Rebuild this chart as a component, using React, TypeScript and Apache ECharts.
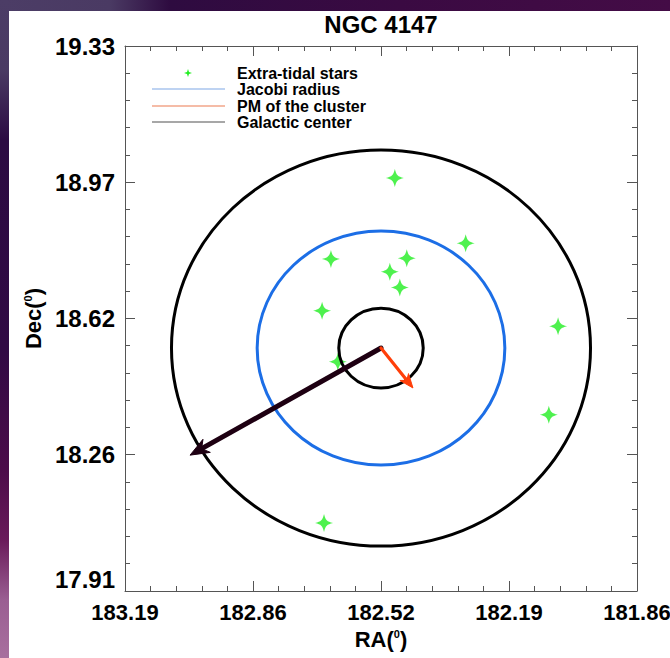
import React, { useEffect, useRef } from "react";
import * as echarts from "echarts";

// ---------- data ----------
const xMajorValues = [183.19, 182.8575, 182.525, 182.1925, 181.86];
const xTickLabels = ["183.19", "182.86", "182.52", "182.19", "181.86"];
const yMajorValues = [17.91, 18.265, 18.62, 18.975, 19.33];
const yTickLabels = ["17.91", "18.26", "18.62", "18.97", "19.33"];

const starRA = [182.489, 182.305, 182.655, 182.458, 182.502, 182.476, 182.678, 182.065, 182.637, 182.089, 182.673];
const starDec = [18.986, 18.816, 18.775, 18.777, 18.742, 18.701, 18.64, 18.6, 18.507, 18.369, 18.087];

const clusterRA = 182.525;
const clusterDec = 18.543;

// circle radii in degrees of Dec
const circleRadius = [0.516, 0.305, 0.104];
const circleColors = ["#000000", "#1c6ee6", "#000000"];

// arrow end points: galactic center direction, proper motion
const arrowEndRA = [183.021, 182.442];
const arrowEndDec = [18.264, 18.439];
const arrowColors = ["#1e0012", "#ff3f0a"];

const legendNames = ["Extra-tidal stars", "Jacobi radius", "PM of the cluster", "Galactic center"];

// ---------- helpers ----------
function minorValues(majors: number[]) {
  const out: number[] = [];
  for (let i = 0; i < majors.length - 1; i++) {
    for (let k = 1; k < 5; k++) out.push(majors[i] + ((majors[i + 1] - majors[i]) * k) / 5);
  }
  return out;
}
function labelFor(values: number[], labels: string[]) {
  return (v: number) => {
    for (let i = 0; i < values.length; i++) if (Math.abs(values[i] - v) < 1e-4) return labels[i];
    return "";
  };
}

const FONT = "Liberation Sans";
const STAR_PATH =
  "path://M0 -10 C1.6 -3.2 3.2 -1.6 10 0 C3.2 1.6 1.6 3.2 0 10 C-1.6 3.2 -3.2 1.6 -10 0 C-3.2 -1.6 -1.6 -3.2 0 -10Z";

export default function App() {
  const ref = useRef<HTMLDivElement>(null);
  useEffect(() => {
    if (!ref.current) return;
    const chart = echarts.init(ref.current, undefined, { renderer: "svg" });
    const xMin = Math.min(...xMajorValues);
    const xMax = Math.max(...xMajorValues);
    const yMin = Math.min(...yMajorValues);
    const yMax = Math.max(...yMajorValues);
    const xMinor = minorValues(xMajorValues);
    const yMinor = minorValues(yMajorValues);
    const lineCol = "#555";
    const labelStyle = { fontFamily: FONT, fontWeight: "bold" as const, color: "#000" };

    const xAxisBase = { type: "value" as const, min: xMin, max: xMax, inverse: true, gridIndex: 0, splitLine: { show: false } };
    const yAxisBase = { type: "value" as const, min: yMin, max: yMax, gridIndex: 0, splitLine: { show: false } };

    const nameRich = {
      n: { fontFamily: FONT, fontWeight: "bold", fontSize: 22, color: "#000" },
      s: { fontFamily: FONT, fontWeight: "bold", fontSize: 11, color: "#000", verticalAlign: "top", padding: [0, 0, 10, 0] },
    };

    const xAxes = [
      {
        ...xAxisBase,
        position: "bottom",
        axisLine: { show: true, lineStyle: { color: lineCol, width: 1 } },
        axisTick: { show: true, inside: true, length: 10, customValues: xMajorValues, lineStyle: { color: lineCol } },
        axisLabel: { show: true, customValues: xMajorValues, formatter: labelFor(xMajorValues, xTickLabels), margin: 10, fontSize: 22, ...labelStyle },
        name: "{n|RA(}{s|0}{n|)}",
        nameLocation: "middle",
        nameGap: 37,
        nameTextStyle: { rich: nameRich },
      },
      {
        ...xAxisBase,
        position: "bottom",
        axisLine: { show: false },
        axisTick: { show: true, inside: true, length: 5, customValues: xMinor, lineStyle: { color: lineCol } },
        axisLabel: { show: false },
      },
      {
        ...xAxisBase,
        position: "top",
        axisLine: { show: true, lineStyle: { color: lineCol, width: 1 } },
        axisTick: { show: true, inside: true, length: 10, customValues: xMajorValues, lineStyle: { color: lineCol } },
        axisLabel: { show: false },
      },
      {
        ...xAxisBase,
        position: "top",
        axisLine: { show: false },
        axisTick: { show: true, inside: true, length: 5, customValues: xMinor, lineStyle: { color: lineCol } },
        axisLabel: { show: false },
      },
    ];
    const yAxes = [
      {
        ...yAxisBase,
        position: "left",
        axisLine: { show: true, lineStyle: { color: lineCol, width: 1 } },
        axisTick: { show: true, inside: true, length: 10, customValues: yMajorValues, lineStyle: { color: lineCol } },
        axisLabel: {
          show: true,
          customValues: yMajorValues,
          formatter: labelFor(yMajorValues, yTickLabels),
          margin: 10,
          fontSize: 24,
          verticalAlignMinLabel: "bottom",
          ...labelStyle,
        },
        name: "{n|Dec(}{s|0}{n|)}",
        nameLocation: "middle",
        nameRotate: 90,
        nameGap: 80,
        nameTextStyle: { rich: nameRich },
      },
      {
        ...yAxisBase,
        position: "left",
        axisLine: { show: false },
        axisTick: { show: true, inside: true, length: 5, customValues: yMinor, lineStyle: { color: lineCol } },
        axisLabel: { show: false },
      },
      {
        ...yAxisBase,
        position: "right",
        axisLine: { show: true, lineStyle: { color: lineCol, width: 1 } },
        axisTick: { show: true, inside: true, length: 10, customValues: yMajorValues, lineStyle: { color: lineCol } },
        axisLabel: { show: false },
      },
      {
        ...yAxisBase,
        position: "right",
        axisLine: { show: false },
        axisTick: { show: true, inside: true, length: 5, customValues: yMinor, lineStyle: { color: lineCol } },
        axisLabel: { show: false },
      },
    ];

    const starData = starRA.map((ra, i) => [ra, starDec[i]]);
    const circleData = circleRadius.map((r) => [clusterRA, clusterDec, r]);
    const arrowData = arrowEndRA.map((ra, i) => [clusterRA, clusterDec, ra, arrowEndDec[i]]);

    const legendY = [62, 78, 95, 111];
    const legendLineColors = ["", "#a8c4ee", "#f2a68a", "#8a8a8a"];

    const option: any = {
      animation: false,
      backgroundColor: "#ffffff",
      grid: { left: 116, top: 35, width: 512, height: 545, containLabel: false, outerBoundsMode: "none" },
      xAxis: xAxes,
      yAxis: yAxes,
      series: [
        {
          type: "scatter",
          xAxisIndex: 0,
          yAxisIndex: 0,
          data: starData,
          symbol: STAR_PATH,
          symbolSize: 18,
          itemStyle: { color: "#22ee22" },
          z: 2,
        },
        {
          type: "custom",
          xAxisIndex: 0,
          yAxisIndex: 0,
          data: circleData,
          z: 3,
          renderItem: (params: any, api: any) => {
            const ra = api.value(0);
            const dec = api.value(1);
            const r = api.value(2);
            const c = api.coord([ra, dec]);
            const s = api.size([r / Math.cos((dec * Math.PI) / 180), r]);
            return {
              type: "ellipse",
              shape: { cx: c[0], cy: c[1], rx: Math.abs(s[0]), ry: Math.abs(s[1]) },
              style: { fill: "none", stroke: circleColors[params.dataIndex], lineWidth: 3 },
            };
          },
        },
        {
          type: "custom",
          xAxisIndex: 0,
          yAxisIndex: 0,
          data: arrowData,
          z: 4,
          renderItem: (params: any, api: any) => {
            const p0 = api.coord([api.value(0), api.value(1)]);
            const p1 = api.coord([api.value(2), api.value(3)]);
            const idx = params.dataIndex;
            const color = arrowColors[idx];
            const lw = idx === 0 ? 5 : 3.2;
            const L = idx === 0 ? 19 : 14;
            const W = idx === 0 ? 7.5 : 5.5;
            const dx = p1[0] - p0[0];
            const dy = p1[1] - p0[1];
            const len = Math.sqrt(dx * dx + dy * dy);
            const ux = dx / len;
            const uy = dy / len;
            const px = -uy;
            const py = ux;
            const bx = p1[0] - ux * L;
            const by = p1[1] - uy * L;
            const nx = p1[0] - ux * L * 0.7;
            const ny = p1[1] - uy * L * 0.7;
            return {
              type: "group",
              children: [
                {
                  type: "line",
                  shape: { x1: p0[0], y1: p0[1], x2: nx, y2: ny },
                  style: { stroke: color, lineWidth: lw, lineCap: "round" },
                },
                {
                  type: "polygon",
                  shape: {
                    points: [
                      [p1[0], p1[1]],
                      [bx + px * W, by + py * W],
                      [nx, ny],
                      [bx - px * W, by - py * W],
                    ],
                  },
                  style: { fill: color, stroke: color, lineWidth: 1 },
                },
              ],
            };
          },
        },
      ],
      graphic: [
        {
          type: "text",
          x: 372,
          y: 13,
          style: {
            text: "NGC 4147",
            fontFamily: FONT,
            fontWeight: "bold",
            fontSize: 24,
            fill: "#000",
            textAlign: "center",
            textVerticalAlign: "middle",
          },
        },
        {
          type: "polygon",
          shape: {
            points: [
              [179, 58],
              [180, 61],
              [183, 62],
              [180, 63],
              [179, 66],
              [178, 63],
              [175, 62],
              [178, 61],
            ],
          },
          style: { fill: "#22ee22" },
        },
        ...[1, 2, 3].map((i) => ({
          type: "line",
          shape: { x1: 143, y1: legendY[i], x2: 216, y2: legendY[i] },
          style: { stroke: legendLineColors[i], lineWidth: 1.5 },
        })),
        ...legendNames.map((name, i) => ({
          type: "text",
          x: 228,
          y: legendY[i],
          style: {
            text: name,
            fontFamily: FONT,
            fontWeight: "bold",
            fontSize: 16,
            fill: "#000",
            textAlign: "left",
            textVerticalAlign: "middle",
          },
        })),
      ],
    };
    chart.setOption(option);
    return () => chart.dispose();
  }, []);

  return (
    <div style={{ position: "fixed", left: 0, top: 0, width: 670, height: 658, overflow: "hidden", background: "#fff" }}>
      <div
        style={{
          position: "absolute",
          left: 0,
          top: 0,
          width: 670,
          height: 11,
          background: "linear-gradient(to right, #4c3d66 0px, #4a3a63 110px, #2e0b40 170px, #3a0a42 400px, #440c46 670px)",
        }}
      />
      <div
        style={{
          position: "absolute",
          left: 0,
          top: 0,
          width: 9,
          height: 658,
          background:
            "linear-gradient(to bottom, #4c3d66 0px, #4a3a63 70px, #2c0b42 140px, #310a44 350px, #4c0c4a 470px, #6a1a5a 540px, #9a5e92 600px, #a8709e 658px)",
        }}
      />
      <div ref={ref} style={{ position: "absolute", left: 9, top: 11, width: 661, height: 647, background: "#fff" }} />
    </div>
  );
}
